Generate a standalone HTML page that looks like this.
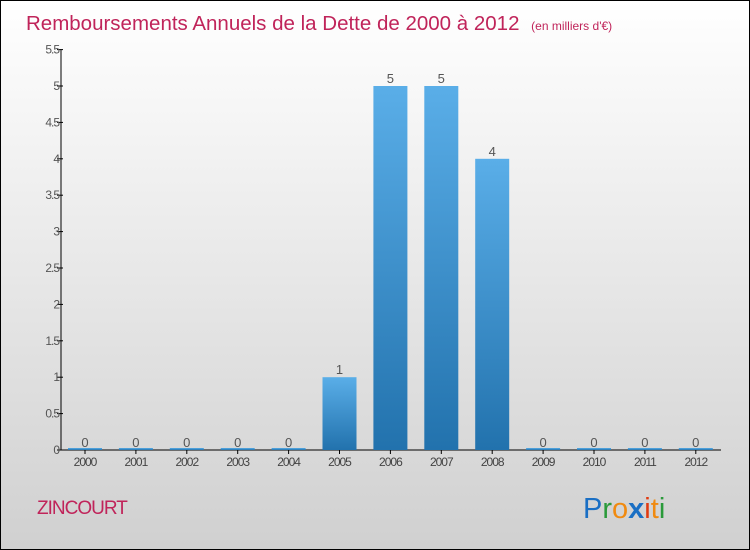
<!DOCTYPE html>
<html><head><meta charset="utf-8"><style>
body{margin:0}
#c{width:748px;height:548px;border:1px solid #000;background:linear-gradient(#fff,#d0d0d0);position:relative;overflow:hidden;font-family:"Liberation Sans",sans-serif}
</style></head><body>
<div id="c">
<svg width="748" height="548" id="s">
<defs><linearGradient id="g" x1="0" y1="0" x2="0" y2="1"><stop offset="0" stop-color="#5aaee8"/><stop offset="1" stop-color="#2272ad"/></linearGradient></defs>
<text x="25" y="29" font-size="20.5" fill="#c0245a">Remboursements Annuels de la Dette de 2000 à 2012 <tspan font-size="12" dx="6">(en milliers d'€)</tspan></text>
<text x="36" y="513" font-size="19" fill="#c0245a" letter-spacing="-1">ZINCOURT</text>
<g font-size="29" font-family="'Liberation Sans',sans-serif"><text x="582" y="517"><tspan fill="#1a6fc4">P</tspan><tspan fill="#2a9a3a">r</tspan><tspan fill="#f08a10">o</tspan><tspan fill="#1a6fc4" font-weight="bold">x</tspan><tspan fill="#e03a10">i</tspan><tspan fill="#f08a10">t</tspan><tspan fill="#2a9a3a">i</tspan></text></g>
<g id="plot"></g>
</svg></div>
<script>
const years=["2000","2001","2002","2003","2004","2005","2006","2007","2008","2009","2010","2011","2012"];
const values=[0,0,0,0,0,1,5,5,4,0,0,0,0];
const yTicks=[0,0.5,1,1.5,2,2.5,3,3.5,4,4.5,5,5.5];
const ns="http://www.w3.org/2000/svg";
const p=document.getElementById('plot');
const y0=449,ppu=72.8,x0=84,step=50.9,bw=34,ax=60;
const Y=v=>y0-v*ppu, X=i=>x0+i*step;
function mk(t,a){const e=document.createElementNS(ns,t);for(const k in a)e.setAttribute(k,a[k]);p.appendChild(e);return e;}
const yl=mk('line',{x1:ax,y1:Y(5.5),x2:ax,y2:y0,stroke:'#000'});


const xl=mk('line',{x1:ax,y1:y0,x2:720,y2:y0,stroke:'#000'});


yTicks.forEach(v=>{
 const t=mk('line',{x1:ax-4,y1:Y(v),x2:ax+2,y2:Y(v),stroke:'#000'});
 
 
 const l=mk('text',{x:ax-2,y:Y(v)+4,'text-anchor':'end','font-size':12,fill:'#555','letter-spacing':'-1'});
 l.textContent=String(v);
 
 
});
years.forEach((yr,i)=>{
 const v=values[i],h=Math.max(v*ppu,2);
 const b=mk('rect',{x:X(i)-bw/2,y:y0-h,width:bw,height:h,fill:'url(#g)'});
 
 
 const t=mk('line',{x1:X(i),y1:y0,x2:X(i),y2:y0+4,stroke:'#000'});
 
 
 const l=mk('text',{x:X(i),y:y0+16,'text-anchor':'middle','font-size':12,fill:'#444','letter-spacing':'-1'});
 l.textContent=yr;
 
 
 const vl=mk('text',{x:X(i),y:Y(v)-3,'text-anchor':'middle','font-size':13,fill:'#555'});
 vl.textContent=String(v);
 
 
});
</script>
</body></html>
